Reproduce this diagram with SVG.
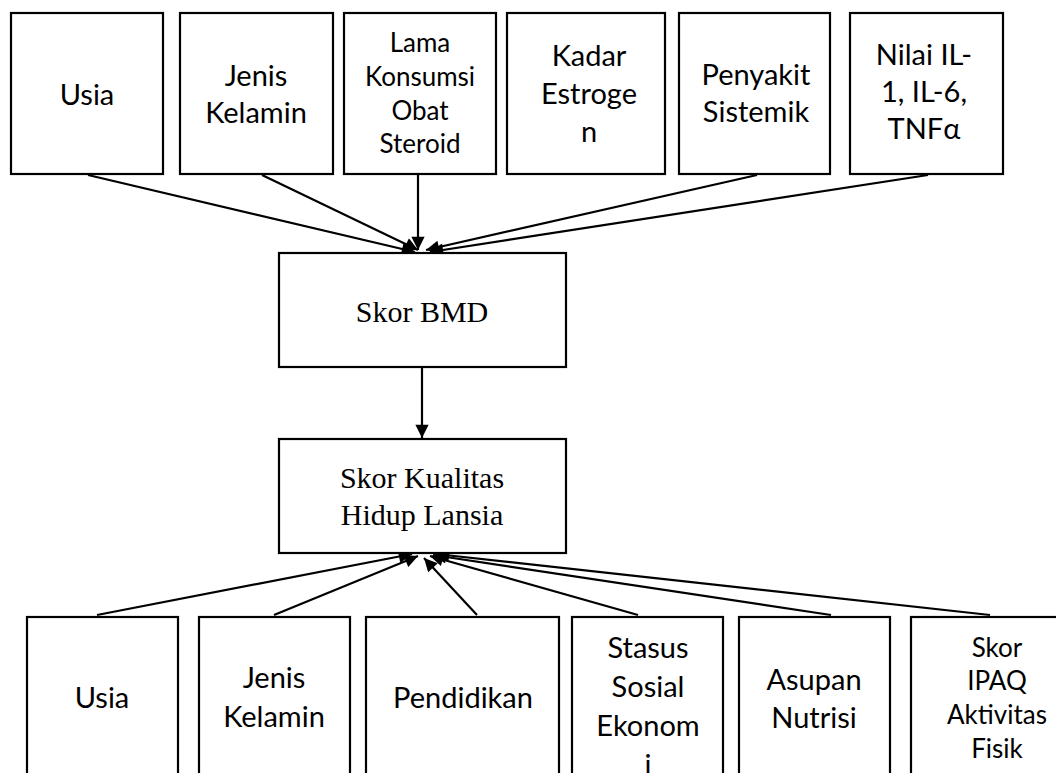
<svg xmlns="http://www.w3.org/2000/svg" width="1056" height="773" viewBox="0 0 1056 773">
<style>
.box{fill:#fff;stroke:#000;stroke-width:2.2}
.s{font-family:Lato,"Open Sans","Liberation Sans",sans-serif;font-size:29px;fill:#000;text-anchor:middle}
.sm{font-size:26px}
.t{font-family:"Liberation Serif","Times New Roman",serif;font-size:30px;fill:#000;text-anchor:middle}
.c{stroke:#000;stroke-width:2.2;fill:none;marker-end:url(#ah)}
</style>
<defs>
<marker id="ah" viewBox="0 0 10 10" refX="10" refY="5" markerWidth="7" markerHeight="6" markerUnits="strokeWidth" orient="auto">
<path d="M0,0 L10,5 L0,10 z" fill="#000"/>
</marker>
</defs>
<rect width="1056" height="773" fill="#fff"/>
<g id="connectors">
<line class="c" x1="88" y1="175" x2="415" y2="252"/>
<line class="c" x1="262" y1="175" x2="418" y2="250"/>
<line class="c" x1="418" y1="174" x2="418" y2="250"/>
<line class="c" x1="757" y1="175" x2="426" y2="250"/>
<line class="c" x1="928" y1="175" x2="430" y2="252"/>
<line class="c" x1="422" y1="367" x2="422" y2="438"/>
<line class="c" x1="97" y1="615" x2="412" y2="554"/>
<line class="c" x1="274" y1="615" x2="418" y2="556"/>
<line class="c" x1="477" y1="615" x2="424" y2="558"/>
<line class="c" x1="638" y1="615" x2="430" y2="556"/>
<line class="c" x1="831" y1="615" x2="433" y2="555"/>
<line class="c" x1="990" y1="615" x2="436" y2="554"/>
</g>
<g id="t-usia"><rect class="box" x="11" y="13" width="152" height="161"/><text class="s" x="87" y="105">Usia</text></g>
<g id="t-jenis"><rect class="box" x="180" y="13" width="153" height="161"/><text class="s" x="256" y="86">Jenis</text><text class="s" x="256" y="123">Kelamin</text></g>
<g id="t-lama"><rect class="box" x="344" y="13" width="152" height="161"/><text class="s sm" x="420" y="52">Lama</text><text class="s sm" x="420" y="86">Konsumsi</text><text class="s sm" x="420" y="120">Obat</text><text class="s sm" x="420" y="153">Steroid</text></g>
<g id="t-kadar"><rect class="box" x="507" y="13" width="158" height="161"/><text class="s" x="589" y="66">Kadar</text><text class="s" x="589" y="104">Estroge</text><text class="s" x="589" y="142">n</text></g>
<g id="t-penyakit"><rect class="box" x="679" y="13" width="151" height="161"/><text class="s" x="756" y="85">Penyakit</text><text class="s" x="756" y="122">Sistemik</text></g>
<g id="t-nilai"><rect class="box" x="850" y="13" width="153" height="161"/><text class="s" x="924" y="65">Nilai IL-</text><text class="s" x="924" y="102">1, IL-6,</text><text class="s" x="924" y="139">TNFα</text></g>
<g id="bmd"><rect class="box" x="279" y="253" width="287" height="114"/><text class="t" x="422" y="322">Skor BMD</text></g>
<g id="kualitas"><rect class="box" x="279" y="439" width="287" height="114"/><text class="t" x="422" y="488">Skor Kualitas</text><text class="t" x="422" y="525">Hidup Lansia</text></g>
<g id="b-usia"><rect class="box" x="27" y="617" width="151" height="170"/><text class="s" x="102" y="708">Usia</text></g>
<g id="b-jenis"><rect class="box" x="199" y="617" width="151" height="170"/><text class="s" x="274" y="688">Jenis</text><text class="s" x="274" y="727">Kelamin</text></g>
<g id="b-pendidikan"><rect class="box" x="366" y="617" width="193" height="170"/><text class="s" x="463" y="708">Pendidikan</text></g>
<g id="b-stasus"><rect class="box" x="572" y="617" width="151" height="170"/><text class="s" x="648" y="658">Stasus</text><text class="s" x="648" y="697">Sosial</text><text class="s" x="648" y="736">Ekonom</text><text class="s" x="648" y="775">i</text></g>
<g id="b-asupan"><rect class="box" x="739" y="617" width="151" height="170"/><text class="s" x="814" y="690">Asupan</text><text class="s" x="814" y="728">Nutrisi</text></g>
<g id="b-ipaq"><rect class="box" x="911" y="617" width="172" height="170"/><text class="s sm" x="997" y="657">Skor</text><text class="s sm" x="997" y="690">IPAQ</text><text class="s sm" x="997" y="724">Aktivitas</text><text class="s sm" x="997" y="758">Fisik</text></g>
</svg>
